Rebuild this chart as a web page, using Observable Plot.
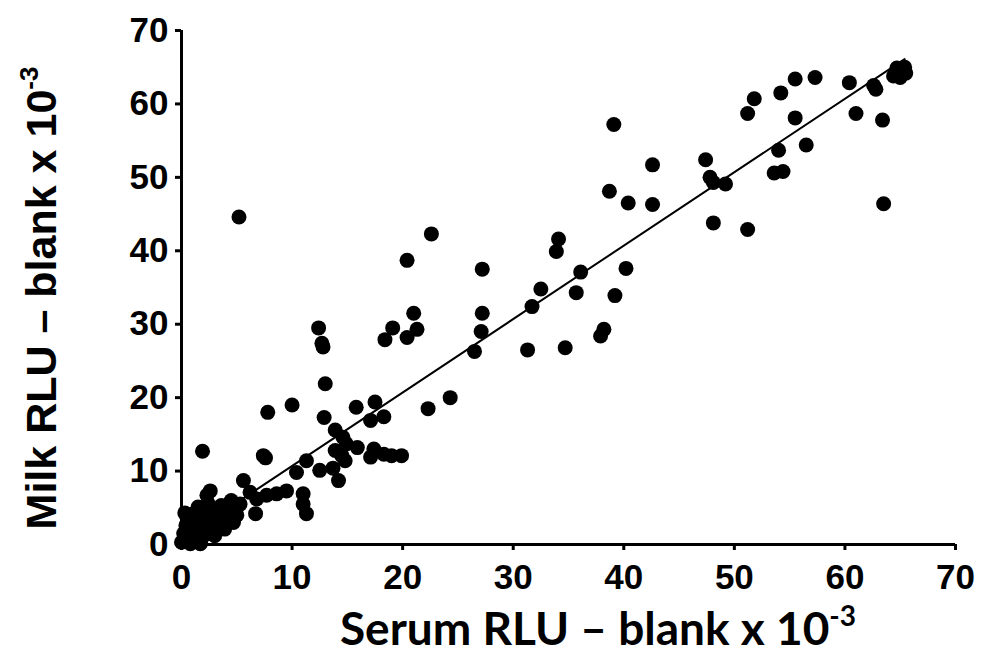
<!DOCTYPE html>
<html><head><meta charset="utf-8">
<script src="https://cdn.jsdelivr.net/npm/d3@7"></script>
<script src="https://cdn.jsdelivr.net/npm/@observablehq/plot@0.6"></script>
<style>
body{margin:0;background:#fff}
#chart{width:986px;height:657px}
</style>
</head><body><div id="chart"></div>
<script>
// Serum RLU – blank (x 10^-3), one value per sample
const serum = [
  39.1,42.6,38.7,40.4,42.6,47.4,47.8,48.1,49.2,48.1,51.2,51.2,51.8,54.2,55.5,57.3,55.5,54.0,56.5,53.6,54.4,
  60.4,62.8,62.6,61.0,63.4,63.5,64.7,65.4,64.4,65.0,65.2,65.5,
  22.6,20.4,27.2,34.1,33.9,32.5,36.1,35.7,40.2,39.2,38.2,37.9,31.7,27.2,27.1,26.5,31.3,34.7,
  21.0,21.3,19.1,18.4,20.4,24.3,22.3,12.4,12.7,12.8,13.0,7.8,10.0,12.9,15.8,17.5,17.1,18.3,
  13.9,14.6,14.9,13.9,14.5,15.9,17.4,17.1,18.3,19.0,19.9,14.8,11.3,7.6,7.4,1.9,10.4,12.5,13.7,
  5.6,14.2,5.2,
  11.0,11.0,11.3,9.5,8.6,7.7,6.8,6.7,6.2,4.5,4.4,4.7,3.6,2.6,2.3,3.2,2.9,1.5,1.1,0.5,1.5,2.0,2.4,
  1.1,0.5,0.0,0.8,1.7,0.2,1.2,2.0,2.7,3.5,3.9,
  0.9,1.8,3.0,4.1,5.3,0.4,1.4,2.4,3.8,5.0,0.3,1.0
];
// Milk RLU – blank (x 10^-3), same order
const milk = [
  57.2,51.7,48.1,46.5,46.3,52.4,50.0,49.3,49.1,43.8,42.9,58.7,60.7,61.5,63.4,63.6,58.1,53.7,54.4,50.6,50.8,
  62.9,62.0,62.5,58.7,57.8,46.4,64.9,65.0,63.8,63.6,64.5,64.2,
  42.3,38.7,37.5,41.6,39.9,34.8,37.1,34.3,37.6,33.9,29.3,28.4,32.4,31.5,29.0,26.3,26.5,26.8,
  31.5,29.3,29.5,27.9,28.2,20.0,18.5,29.5,27.4,26.9,21.9,18.0,19.0,17.3,18.7,19.4,16.9,17.4,
  15.6,14.6,13.7,12.8,12.1,13.2,13.0,11.9,12.3,12.1,12.1,11.4,11.4,11.8,12.1,12.7,9.8,10.1,10.4,
  8.7,8.7,44.6,
  6.9,5.5,4.2,7.3,6.9,6.7,6.2,4.2,7.1,6.0,4.6,3.0,5.3,7.3,6.7,4.2,3.0,5.1,4.2,3.7,2.8,1.9,1.5,
  1.5,1.0,0.3,0.1,0.1,1.5,2.4,3.7,4.9,3.3,2.1,
  0.6,0.8,1.2,3.9,5.5,2.6,3.3,5.6,2.9,4.0,4.3,2.9
];
// regression line end points
const fitX = [0, 65.4];
const fitY = [0.7, 66.1];
const xTicks = [0,10,20,30,40,50,60,70];
const yTicks = [0,10,20,30,40,50,60,70];
const xTitle = "Serum RLU \u2013 blank x 10";
const yTitle = "Milk RLU \u2013 blank x 10";
const titleSup = "-3";

const points = serum.map((s, i) => ({serum: s, milk: milk[i]}));
const fit = fitX.map((x, i) => ({x, y: fitY[i]}));

const font = "'Liberation Sans', Arial, sans-serif";
const plot = Plot.plot({
  width: 986,
  height: 657,
  marginLeft: 181,
  marginRight: 31,
  marginTop: 30,
  marginBottom: 113,
  style: {fontFamily: font, fontWeight: "bold", background: "#fff", color: "#000", overflow: "visible"},
  x: {domain: [0, 70]},
  y: {domain: [0, 70]},
  marks: [
    Plot.axisX({ticks: xTicks, tickSize: 6, tickPadding: 14, fontSize: 35, fontWeight: "bold", strokeWidth: 3, label: null}),
    Plot.axisY({ticks: yTicks, tickSize: 6, tickPadding: 7, fontSize: 35, fontWeight: "bold", strokeWidth: 3, label: null}),
    Plot.ruleY([0], {x1: 0, x2: 70, strokeWidth: 3}),
    Plot.ruleX([0], {y1: 0, y2: 70, strokeWidth: 3}),
    Plot.line(fit, {x: "x", y: "y", strokeWidth: 2, stroke: "#000"}),
    Plot.dot(points, {x: "serum", y: "milk", r: 7.5, fill: "#000", stroke: "none"})
  ]
});
document.getElementById("chart").appendChild(plot);

const svg = d3.select(plot);
svg.selectAll('g[aria-label="x-axis tick label"], g[aria-label="y-axis tick label"]')
  .style("font-size", "35px").style("font-weight", "bold").style("font-family", font);
svg.selectAll('g[aria-label="x-axis tick label"] text, g[aria-label="y-axis tick label"] text')
  .style("font-size", "35px").style("font-weight", "bold");

const xt = svg.append("text")
  .attr("x", 598).attr("y", 645)
  .attr("text-anchor", "middle")
  .style("font-family", "Lato, 'Open Sans', sans-serif")
  .style("font-weight", "bold")
  .style("font-size", "46px")
  .attr("fill", "#000");
xt.append("tspan").text(xTitle);
xt.append("tspan").attr("dy", -19).style("font-size", "28px").text(titleSup);

const yt = svg.append("text")
  .attr("transform", "translate(56,298) rotate(-90)")
  .attr("text-anchor", "middle")
  .style("font-family", font)
  .style("font-weight", "bold")
  .style("font-size", "43px")
  .attr("fill", "#000");
yt.append("tspan").text(yTitle);
yt.append("tspan").attr("dy", -18).style("font-size", "26px").text(titleSup);
</script>
</body></html>
